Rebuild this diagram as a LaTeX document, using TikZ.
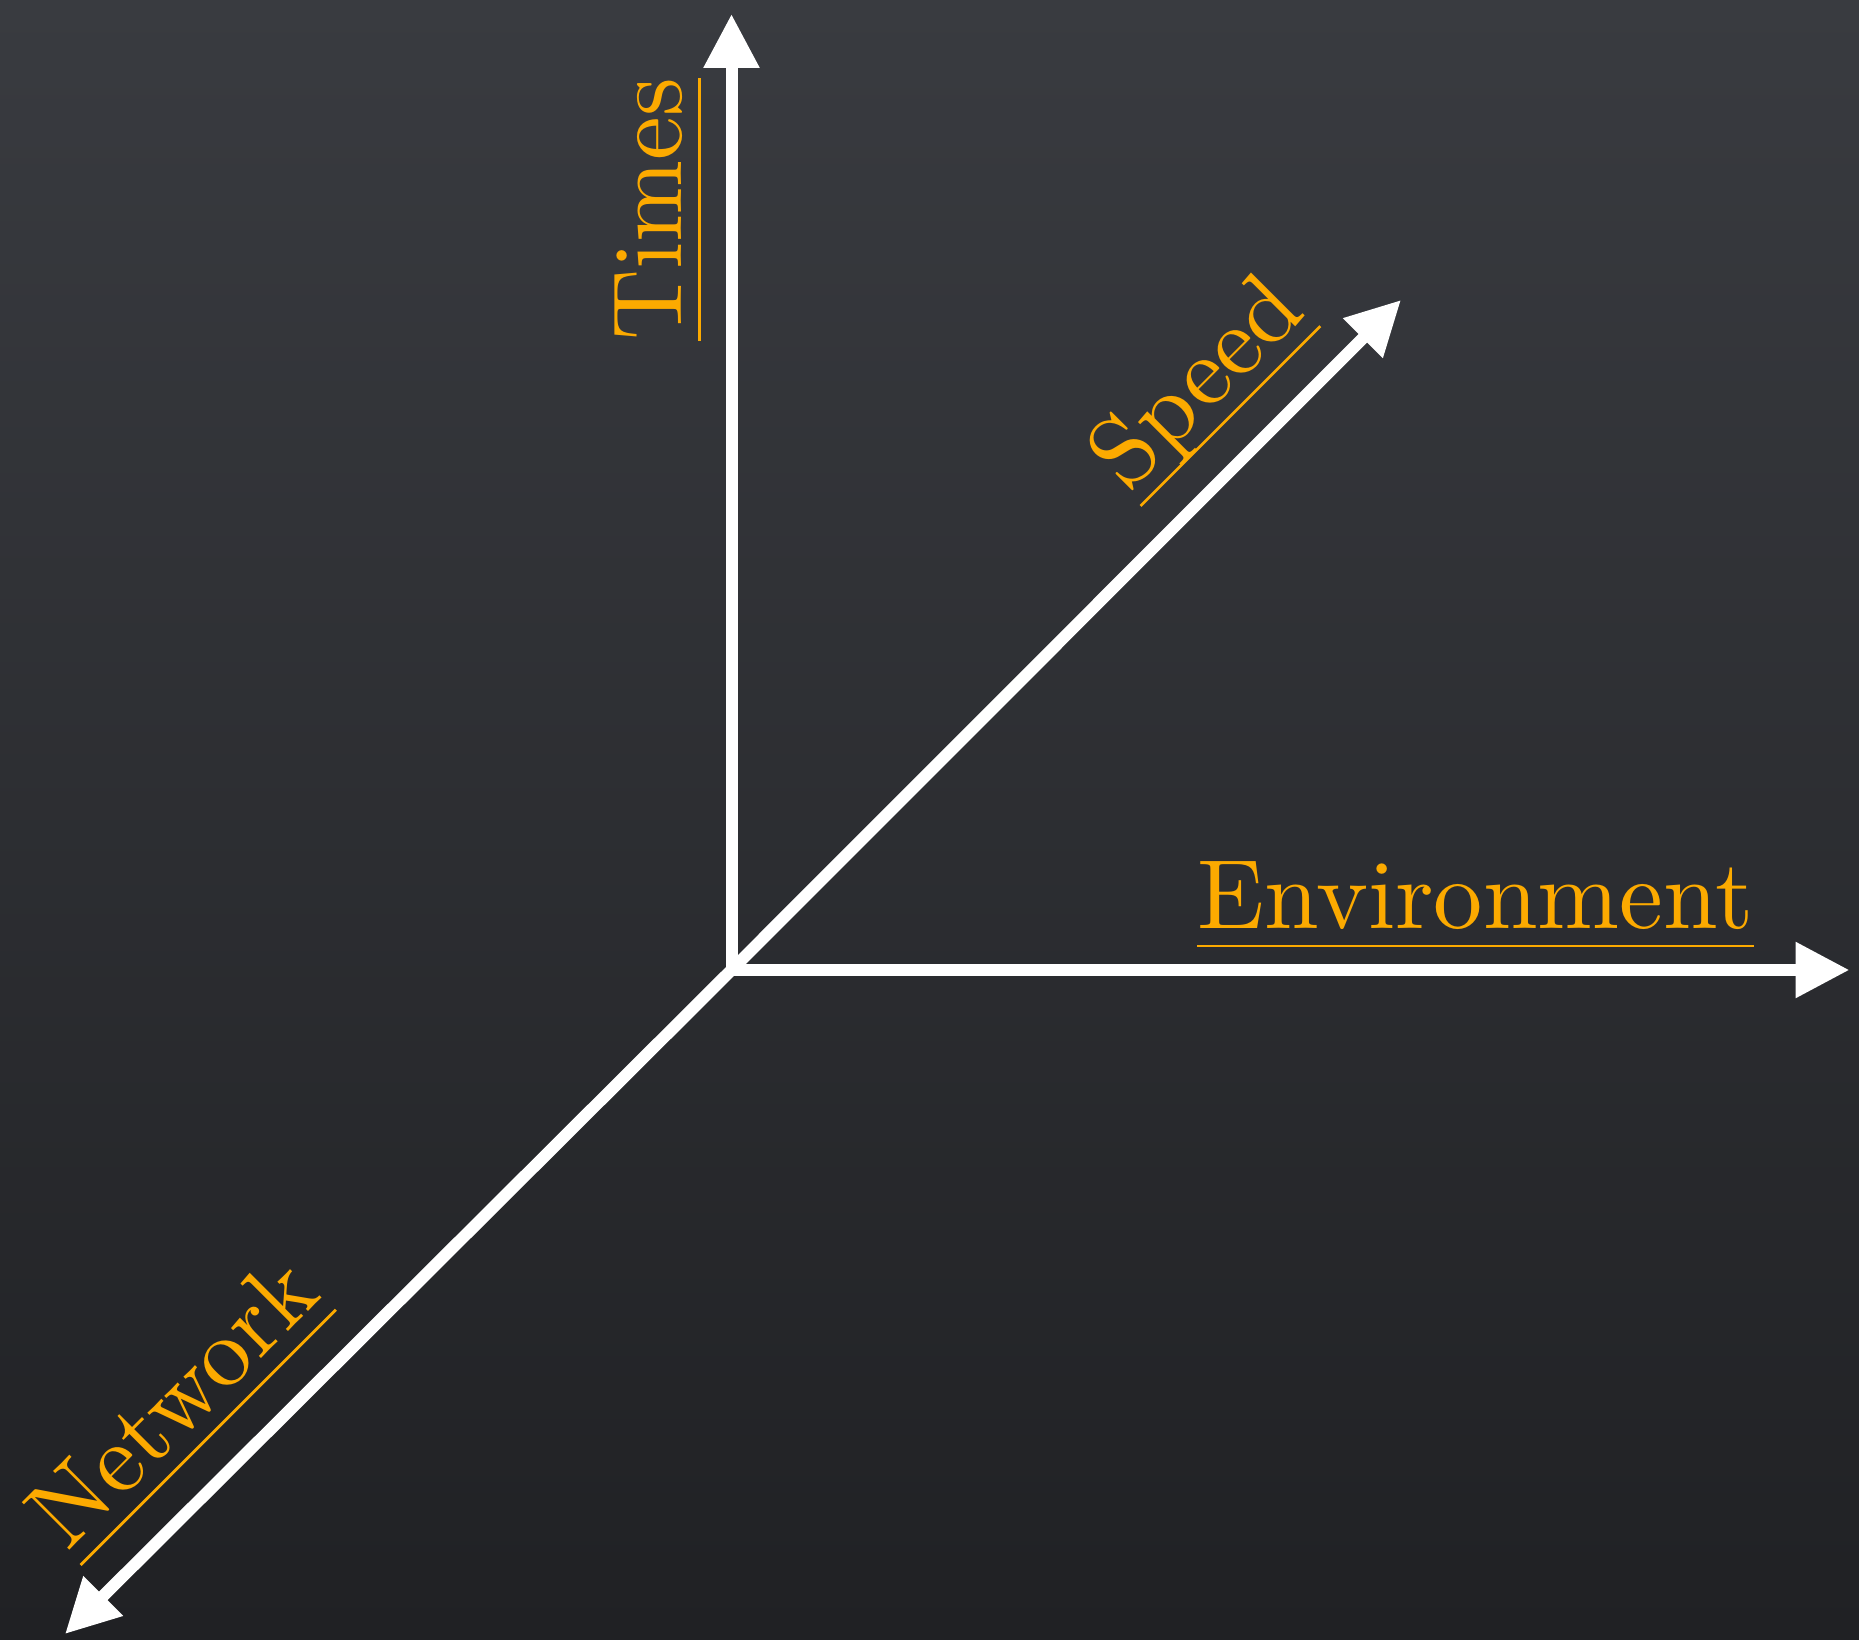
\documentclass[tikz,border=0pt]{standalone}
\usepackage{fontspec}
\newfontfamily\labelfont{lmroman10-regular.otf}
\usetikzlibrary{arrows.meta}
\definecolor{labelOrange}{RGB}{252,170,0}
\definecolor{bgTop}{RGB}{57,59,64}
\definecolor{bgBottom}{RGB}{32,33,36}
\begin{document}
\begin{tikzpicture}[axisStyle/.style={draw=white, line width=0.12cm, -{Triangle[length=0.54cm, width=0.53cm]}},
                    labelStyle/.style={text=labelOrange, font=\labelfont\fontsize{28}{30}\selectfont, inner sep=0pt, outer sep=0pt, text depth=0.18cm, anchor=south west},
                    lineStyle/.style={draw=labelOrange, line width=0.8pt}]
                    \shade[top color=bgTop, bottom color=bgBottom] (0, 0) rectangle (18.59, 16.39);
                    \useasboundingbox (0, 0) rectangle (18.59, 16.39);

                    \coordinate (origin) at (7.315, 6.69);
                    \coordinate (times) at (7.315, 16.25);
                    \coordinate (environment) at (18.495, 6.69);
                    \coordinate (speed) at (14.01, 13.39);
                    \coordinate (network) at (0.65, 0.05);

                    \draw[axisStyle] (origin) -- (times);
                    \draw[axisStyle] (origin) -- (environment);
                    \draw[axisStyle] (origin) -- (speed);
                    \draw[axisStyle] (origin) -- (network);

                    \node[labelStyle, rotate=90](timesLabel) at (6.995, 12.98) {Times};
                    \node[labelStyle](environmentLabel) at (11.97, 6.93) {Environment};
                    \node[labelStyle, rotate=45](speedLabel) at (11.405, 11.33) {Speed};
                    \node[labelStyle, rotate=45](networkLabel) at (0.806, 0.74) {Network};

                    \draw[lineStyle] (timesLabel.south west) -- (timesLabel.south east);
                    \draw[lineStyle] (environmentLabel.south west) -- (environmentLabel.south east);
                    \draw[lineStyle] (speedLabel.south west) -- (speedLabel.south east);
                    \draw[lineStyle] (networkLabel.south west) -- (networkLabel.south east);
                \end{tikzpicture}
\end{document}
